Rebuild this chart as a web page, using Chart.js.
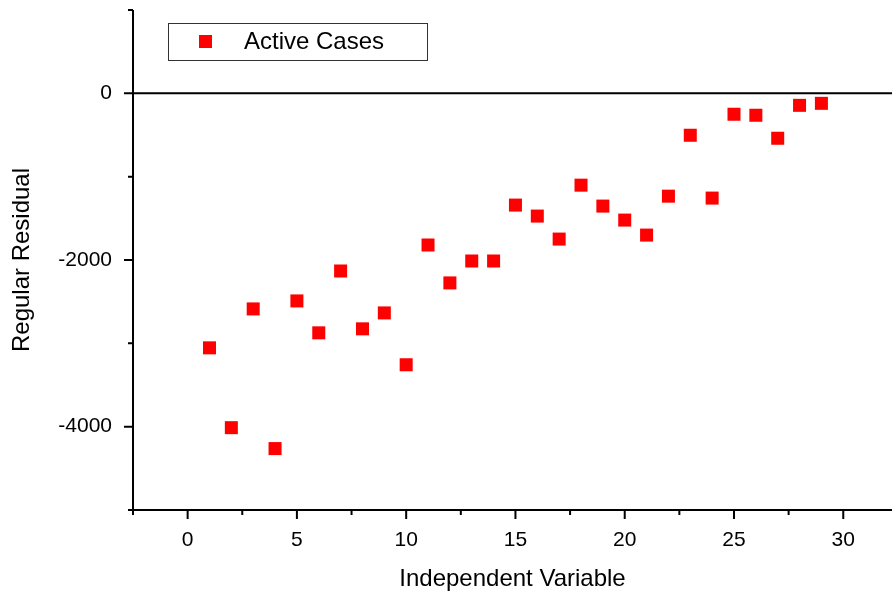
<!DOCTYPE html>
<html>
<head>
<meta charset="utf-8">
<title>Regular Residual</title>
<script src="https://cdn.jsdelivr.net/npm/chart.js@4.4.1/dist/chart.umd.min.js"></script>
<style>
  html, body { margin: 0; padding: 0; background: #fff; }
  #wrap { width: 892px; height: 595px; }
</style>
</head>
<body>
<div id="wrap"><canvas id="residuals" width="892" height="595"></canvas></div>
<script>
// ── data ──
const xValues   = [1, 2, 3, 4, 5, 6, 7, 8, 9, 10, 11, 12, 13, 14, 15, 16, 17, 18, 19, 20, 21, 22, 23, 24, 25, 26, 27, 28, 29];
const residuals = [-3054, -4012, -2587, -4263, -2491, -2874, -2132, -2826, -2635, -3257,
                   -1820, -2275, -2012, -2012, -1341, -1473, -1749, -1102, -1353, -1521,
                   -1701, -1234, -503, -1257, -251, -263, -539, -144, -120];
const seriesName = 'Active Cases';

const xMajorTicks = [0, 5, 10, 15, 20, 25, 30];
const xMinorTicks = [-2.5, 2.5, 7.5, 12.5, 17.5, 22.5, 27.5, 32.5];
const yMajorTicks = [0, -2000, -4000];
const yMinorTicks = [1000, -1000, -3000, -5000];

const INK  = '#000000';
const RED  = '#ff0000';
const FONT = "'Liberation Sans', Arial, sans-serif";

// axis lines, outward ticks, zero line and the boxed legend
const frame = {
  id: 'frame',
  afterDraw(chart) {
    const { ctx, chartArea: a, scales: { x, y } } = chart;
    ctx.save();
    ctx.strokeStyle = INK;
    ctx.lineCap = 'butt';

    ctx.lineWidth = 2;
    ctx.beginPath();
    ctx.moveTo(a.left, a.top);
    ctx.lineTo(a.left, a.bottom);
    ctx.moveTo(a.left - 1, a.bottom);
    ctx.lineTo(a.right, a.bottom);
    const y0 = y.getPixelForValue(0);
    ctx.moveTo(a.left, y0);
    ctx.lineTo(a.right, y0);
    ctx.stroke();

    ctx.beginPath();
    xMajorTicks.forEach(v => { const px = x.getPixelForValue(v); ctx.moveTo(px, a.bottom); ctx.lineTo(px, a.bottom + 9); });
    xMinorTicks.forEach(v => { const px = x.getPixelForValue(v); if (px > a.right + 1) return; ctx.moveTo(px, a.bottom); ctx.lineTo(px, a.bottom + 5); });
    yMajorTicks.forEach(v => { const py = y.getPixelForValue(v); ctx.moveTo(a.left, py); ctx.lineTo(a.left - 9, py); });
    yMinorTicks.forEach(v => { const py = y.getPixelForValue(v); ctx.moveTo(a.left, py); ctx.lineTo(a.left - 5, py); });
    ctx.stroke();

    // legend
    const lx = a.left + 35, ly = a.top + 13, lw = 259, lh = 37;
    ctx.lineWidth = 1;
    ctx.strokeStyle = '#333';
    ctx.strokeRect(lx + 0.5, ly + 0.5, lw, lh);
    ctx.fillStyle = RED;
    ctx.fillRect(lx + 31, ly + 12, 13, 13);
    ctx.fillStyle = INK;
    ctx.font = '24px ' + FONT;
    ctx.textBaseline = 'middle';
    ctx.textAlign = 'left';
    ctx.fillText(chart.data.datasets[0].label, lx + 76, ly + 19);
    ctx.restore();
  }
};

new Chart(document.getElementById('residuals'), {
  type: 'scatter',
  data: {
    datasets: [{
      label: seriesName,
      data: xValues.map((v, i) => ({ x: v, y: residuals[i] })),
      backgroundColor: RED,
      borderWidth: 0,
      pointStyle: 'rect',
      pointRadius: 9.2,
      pointHoverRadius: 9.2,
    }],
  },
  options: {
    responsive: false,
    animation: false,
    layout: { autoPadding: false, padding: { top: 10, right: 0, left: 0, bottom: 0 } },
    plugins: { legend: { display: false }, tooltip: { enabled: false } },
    scales: {
      x: {
        type: 'linear',
        min: -2.5,
        max: 32.23,
        afterBuildTicks: s => { s.ticks = xMajorTicks.map(v => ({ value: v })); },
        afterFit: s => { s.height = 85; s.paddingLeft = 0; s.paddingRight = 0; },
        grid: { display: false },
        border: { display: false },
        ticks: { color: INK, font: { family: FONT, size: 21 }, padding: 10, maxRotation: 0, callback: v => String(v) },
        title: { display: true, text: 'Independent Variable', color: INK, font: { family: FONT, size: 24 }, padding: { top: 0, bottom: 1 } },
      },
      y: {
        type: 'linear',
        min: -5000,
        max: 1000,
        afterBuildTicks: s => { s.ticks = yMajorTicks.map(v => ({ value: v })); },
        afterFit: s => { s.width = 133; s.paddingTop = 0; s.paddingBottom = 0; },
        grid: { display: false },
        border: { display: false },
        ticks: { color: INK, font: { family: FONT, size: 21 }, padding: 13, callback: v => String(v) },
        title: { display: true, text: 'Regular Residual', color: INK, font: { family: FONT, size: 24 }, padding: { top: 8, bottom: 0 } },
      },
    },
  },
  plugins: [frame],
});
</script>
</body>
</html>
